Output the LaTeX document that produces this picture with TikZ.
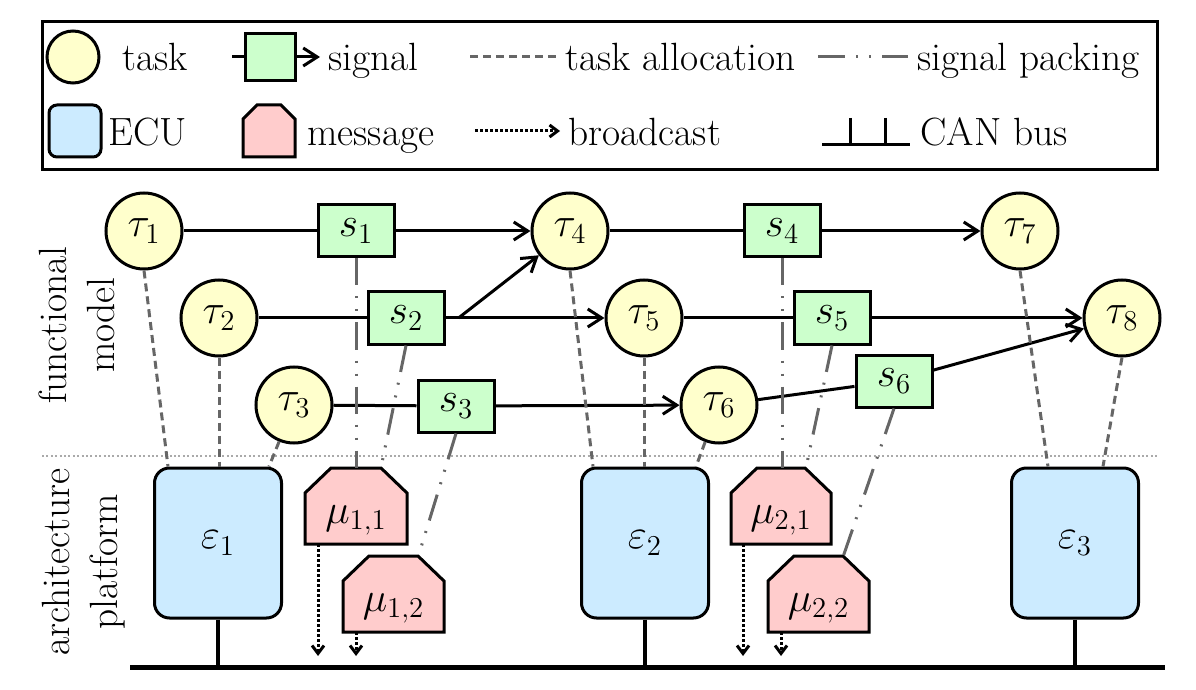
\documentclass[tikz,border=0pt]{standalone}
\usetikzlibrary{arrows.meta,calc}
\definecolor{taskfill}{HTML}{FFFFCC}
\definecolor{sigfill}{HTML}{CCFFCC}
\definecolor{ecufill}{HTML}{CCEBFF}
\definecolor{msgfill}{HTML}{FFCCCC}
\definecolor{linkgray}{HTML}{666666}
\definecolor{sepgray}{HTML}{AAAAAA}
% message: outline first, then an empty node on top of it
\newcommand{\msgnode}[4]{%
  \coordinate (#1c) at (#2);
  \draw[msgline] ($(#1c)+(-#3,38)$) -- ($(#1c)+(-#3,-13)$) -- ($(#1c)+(-#3+26,-38)$)
    -- ($(#1c)+(#3-26,-38)$) -- ($(#1c)+(#3,-13)$) -- ($(#1c)+(#3,38)$) -- cycle;
  \node[msgbox, label={[msglabel]center:#4}] (#1) at (#1c) {};}

\begin{document}
\begin{tikzpicture}[x=0.5pt, y=-0.5pt,
  every node/.style={font=\fontsize{19.7}{24}\selectfont},
  task/.style={circle, draw, line width=1.5pt, fill=taskfill, minimum size=38pt, inner sep=0pt},
  signal/.style={rectangle, draw, line width=1.5pt, fill=sigfill, minimum width=38pt, minimum height=26pt, inner sep=0pt},
  ecu/.style={rectangle, rounded corners=7.5pt, draw, line width=1.5pt, fill=ecufill, minimum width=63.5pt, minimum height=75pt, inner sep=0pt},
  msgline/.style={draw, line width=1.5pt, fill=msgfill, line join=miter},
  msgbox/.style={rectangle, minimum width=51pt, minimum height=38pt, inner sep=0pt},
  msglabel/.style={yshift=-7pt, inner sep=0pt},
  flow/.style={line width=1.5pt},
  arr/.style={line width=1.5pt, -{Straight Barb[length=7pt, width=9pt]}},
  alloc/.style={linkgray, line width=1.5pt, dash pattern=on 4pt off 2.5pt},
  pack/.style={linkgray, line width=1.5pt, dash pattern=on 13.5pt off 5.5pt on 1pt off 5.5pt on 1pt off 5.5pt},
  bcast/.style={line width=1.5pt, dash pattern=on 1.5pt off 1pt, -{Straight Barb[length=4pt, width=6pt]}},
  lgtext/.style={anchor=base west, inner sep=0pt}]
\useasboundingbox (0,0) rectangle (1196,690);

% legend
\node[draw, line width=1.5pt, minimum width=557.5pt, minimum height=74pt, inner sep=0pt] (legend) at (599.5,96) {};
\node[task, minimum size=26pt] (lt) at (73,57) {};
\node[lgtext] (ltt) at (122,71) {task};
\coordinate (ls0) at (232,57);
\node[signal, minimum width=25pt, minimum height=23.5pt] (ls) at (270,57) {};
\coordinate (ls1) at (320,57);
\draw[flow] (ls0) -- (ls);
\draw[arr] (ls) -- (ls1);
\node[lgtext] (lst) at (328,71) {signal};
\coordinate (la0) at (470,57);
\coordinate (la1) at (558,57);
\draw[alloc] (la0) -- (la1);
\node[lgtext] (lat) at (565,71) {task allocation};
\coordinate (lp0) at (818,57);
\coordinate (lp1) at (908,57);
\draw[pack] (lp0) -- (lp1);
\node[lgtext] (lpt) at (917,71) {signal packing};

\node[ecu, minimum width=26pt, minimum height=26pt, rounded corners=4pt] (le) at (75,131) {};
\node[lgtext] (let) at (108,146) {ECU};
\coordinate (lmc) at (269,131);
\draw[msgline] ($(lmc)+(-26,26)$) -- ($(lmc)+(-26,-12)$) -- ($(lmc)+(-12,-26)$)
  -- ($(lmc)+(12,-26)$) -- ($(lmc)+(26,-12)$) -- ($(lmc)+(26,26)$) -- cycle;
\node[lgtext] (lmt) at (307,146) {message};
\coordinate (lb0) at (475,131);
\coordinate (lb1) at (560,131);
\draw[bcast] (lb0) -- (lb1);
\node[lgtext] (lbt) at (568,146) {broadcast};
\coordinate (lc0) at (822,145);
\coordinate (lc1) at (910,145);
\coordinate (lk1) at (850,118);
\coordinate (lk2) at (885,118);
\draw[line width=1.5pt] (lc0) -- (lc1);
\draw[line width=1.5pt] (lk1) -- (lk1 |- lc0);
\draw[line width=1.5pt] (lk2) -- (lk2 |- lc0);
\node[lgtext] (lct) at (920,146) {CAN bus};

% layer labels
\node[rotate=90, align=center] (fm) at (77,325) {functional\\model};
\node[rotate=90, align=center] (ap) at (84,562) {architecture\\platform};
\coordinate (sep0) at (42,456);
\coordinate (sep1) at (1157,456);
\draw[sepgray, line width=1pt, dash pattern=on 1pt off 1.2pt] (sep0) -- (sep1);

% platform
\node[ecu] (e1) at (218,543) {$\varepsilon_1$};
\node[ecu] (e2) at (645,543) {$\varepsilon_2$};
\node[ecu] (e3) at (1075,543) {$\varepsilon_3$};
\msgnode{m11}{356,506}{51}{$\mu_{1,1}$}
\msgnode{m12}{393.5,594}{50.5}{$\mu_{1,2}$}
\msgnode{m21}{781,506}{50}{$\mu_{2,1}$}
\msgnode{m22}{818.5,594}{50.5}{$\mu_{2,2}$}

% bus
\coordinate (busL) at (130,667);
\coordinate (busR) at (1165,667);
\draw[line width=2.5pt] (busL) -- (busR);
\foreach \e in {e1,e2,e3}
  \draw[line width=1.75pt] (\e.south) -- (\e.south |- busL);

% broadcast
\coordinate (bc) at (0,656);
\foreach \m/\dx in {m11/-38,m12/-37.5,m21/-38,m22/-37.5}{
  \coordinate (b\m) at ($(\m.south)+(\dx,0)$);
  \draw[bcast] (b\m) -- (b\m |- bc);
}

% tasks and signals
\node[task] (t1) at (144,231) {$\tau_1$};
\node[task] (t2) at (219,318) {$\tau_2$};
\node[task] (t3) at (294,405) {$\tau_3$};
\node[task] (t4) at (570,231) {$\tau_4$};
\node[task] (t5) at (644,318) {$\tau_5$};
\node[task] (t6) at (719,405) {$\tau_6$};
\node[task] (t7) at (1020,231) {$\tau_7$};
\node[task] (t8) at (1122,318) {$\tau_8$};
\node[signal] (s1) at (356,231) {$s_1$};
\node[signal] (s2) at (406,318) {$s_2$};
\node[signal] (s3) at (456,406) {$s_3$};
\node[signal] (s4) at (782,231) {$s_4$};
\node[signal] (s5) at (832,318) {$s_5$};
\node[signal] (s6) at (894,381) {$s_6$};

% signal flow
\draw[flow] (t1) -- (s1);
\draw[arr] (s1) -- (t4);
\draw[flow] (t2) -- (s2);
\draw[arr] (s2) -- (t5);
\coordinate (b2) at ($(s2.east)+(13,0)$);
\draw[arr] (b2) -- (t4);
\draw[flow] (t3) -- (s3);
\draw[arr] (s3) -- (t6);
\draw[flow] (t4) -- (s4);
\draw[arr] (s4) -- (t7);
\draw[flow] (t5) -- (s5);
\draw[arr] (s5) -- (t8);
\draw[flow] (t6) -- (s6);
\draw[arr] (s6) -- (t8);

% task allocation
\draw[alloc] (t1.south) -- ($(e1.north)+(-50,0)$);
\draw[alloc] (t2.south) -- (t2.south |- e1.north);
\draw[alloc] (t3) -- ($(e1.north east)+(-14,0)$);
\draw[alloc] (t4.south) -- ($(e2.north)+(-52,0)$);
\draw[alloc] (t5.south) -- (t5.south |- e2.north);
\draw[alloc] (t6) -- ($(e2.north east)+(-14,0)$);
\draw[alloc] (t7.south) -- ($(e3.north)+(-27,0)$);
\draw[alloc] (t8.south) -- ($(e3.north)+(28,0)$);

% signal packing
\draw[pack] (s1.south) -- (s1.south |- m11.north);
\draw[pack] (s2.south) -- ($(m11.north)+(25,0)$);
\draw[pack] (s3.south) -- ($(m12.north)+(25,0)$);
\draw[pack] (s4.south) -- (s4.south |- m21.north);
\draw[pack] (s5.south) -- ($(m21.north)+(25,0)$);
\draw[pack] (s6.south) -- ($(m22.north)+(25,0)$);

\end{tikzpicture}
\end{document}
